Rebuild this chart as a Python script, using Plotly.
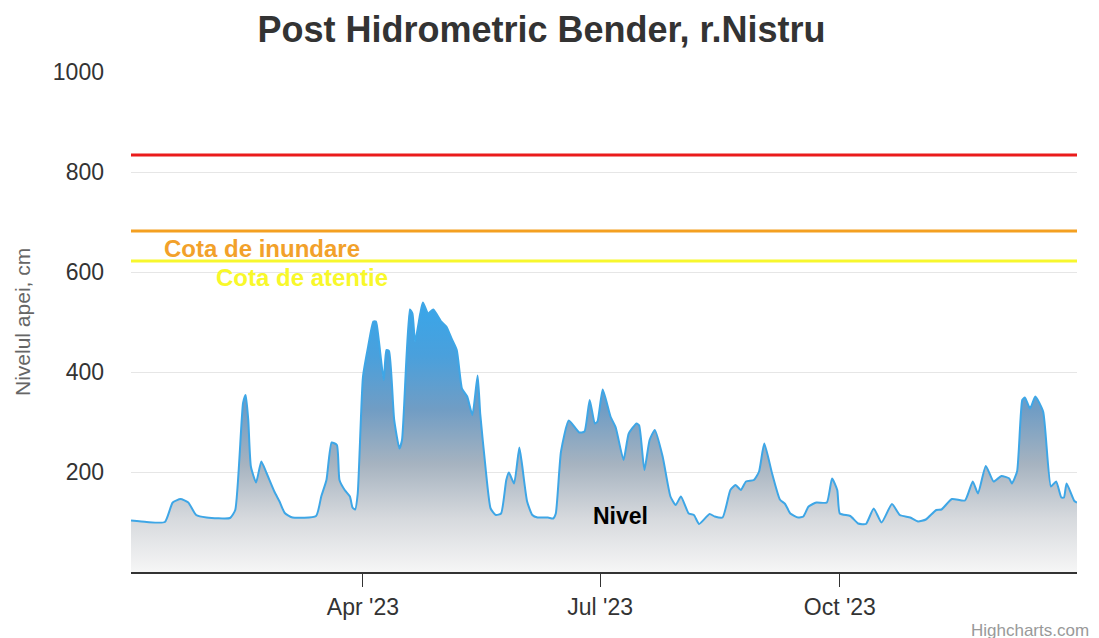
import plotly.graph_objects as go

# Water level, cm
dates = [
    "2023-01-02", "2023-01-08", "2023-01-15", "2023-01-18", "2023-01-21", "2023-01-24",
    "2023-01-27", "2023-01-31", "2023-02-09", "2023-02-11", "2023-02-14", "2023-02-15",
    "2023-02-16", "2023-02-17", "2023-02-19", "2023-02-21", "2023-02-23", "2023-02-26",
    "2023-02-28", "2023-03-02", "2023-03-05", "2023-03-14", "2023-03-16", "2023-03-18",
    "2023-03-20", "2023-03-22", "2023-03-23", "2023-03-25", "2023-03-27", "2023-03-28",
    "2023-03-29", "2023-03-30", "2023-04-01", "2023-04-03", "2023-04-05", "2023-04-06",
    "2023-04-07", "2023-04-09", "2023-04-10", "2023-04-11", "2023-04-13", "2023-04-15",
    "2023-04-16", "2023-04-19", "2023-04-20", "2023-04-21", "2023-04-23", "2023-04-24",
    "2023-04-26", "2023-04-28", "2023-05-01", "2023-05-03", "2023-05-05", "2023-05-07",
    "2023-05-09", "2023-05-11", "2023-05-13", "2023-05-15", "2023-05-16", "2023-05-18",
    "2023-05-20", "2023-05-22", "2023-05-24", "2023-05-26", "2023-05-27", "2023-05-29",
    "2023-05-31", "2023-06-01", "2023-06-03", "2023-06-05", "2023-06-07", "2023-06-11",
    "2023-06-13", "2023-06-14", "2023-06-16", "2023-06-19", "2023-06-23", "2023-06-25",
    "2023-06-27", "2023-06-29", "2023-06-30", "2023-07-02", "2023-07-05", "2023-07-07",
    "2023-07-10", "2023-07-12", "2023-07-15", "2023-07-16", "2023-07-18", "2023-07-20",
    "2023-07-22", "2023-07-25", "2023-07-28", "2023-07-30", "2023-08-01", "2023-08-04",
    "2023-08-06", "2023-08-08", "2023-08-12", "2023-08-14", "2023-08-17", "2023-08-20",
    "2023-08-22", "2023-08-24", "2023-08-26", "2023-08-29", "2023-08-31", "2023-09-02",
    "2023-09-05", "2023-09-08", "2023-09-10", "2023-09-12", "2023-09-15", "2023-09-17",
    "2023-09-19", "2023-09-22", "2023-09-26", "2023-09-28", "2023-09-30", "2023-10-01",
    "2023-10-05", "2023-10-08", "2023-10-11", "2023-10-14", "2023-10-17", "2023-10-21",
    "2023-10-24", "2023-10-28", "2023-10-31", "2023-11-03", "2023-11-07", "2023-11-09",
    "2023-11-13", "2023-11-18", "2023-11-21", "2023-11-23", "2023-11-26", "2023-11-29",
    "2023-12-02", "2023-12-05", "2023-12-06", "2023-12-08", "2023-12-10", "2023-12-11",
    "2023-12-13", "2023-12-15", "2023-12-18", "2023-12-21", "2023-12-23", "2023-12-25",
    "2023-12-26", "2023-12-27", "2023-12-30", "2023-12-31",
]
nivel = [
    103, 100, 100, 139, 146, 139,
    114, 109, 108, 124, 338, 354,
    304, 211, 179, 221, 198, 161,
    141, 118, 109, 112, 151, 184,
    259, 254, 184, 164, 151, 129,
    125, 157, 390, 451, 501, 501,
    467, 384, 444, 442, 304, 247,
    264, 525, 517, 461, 517, 539,
    517, 525, 501, 491, 467, 444,
    367, 351, 314, 393, 317, 211,
    127, 114, 117, 184, 199, 177,
    249, 217, 141, 114, 109, 109,
    107, 117, 241, 303, 279, 281,
    344, 297, 301, 365, 311, 289,
    224, 277, 297, 293, 204, 264,
    284, 231, 151, 134, 151, 117,
    114, 96, 116, 111, 109, 164,
    174, 164, 181, 184, 201, 257,
    197, 145, 136, 117, 109, 111,
    131, 139, 139, 187, 164, 117,
    112, 97, 96, 127, 99, 136,
    114, 109, 101, 105, 124, 125,
    146, 143, 181, 157, 212, 181,
    192, 187, 177, 201, 344, 349,
    327, 351, 321, 171, 181, 149,
    149, 177, 142, 139,
]

# Threshold levels, cm
cota_pericol = 834
cota_inundare = 682
cota_atentie = 622

fig = go.Figure()

fig.add_trace(go.Scatter(
    x=dates,
    y=nivel,
    mode="lines",
    name="Nivel",
    line=dict(color="#3ea6e6", width=2, shape="spline", smoothing=0.5),
    fill="tozeroy",
    fillgradient=dict(
        type="vertical",
        start=0,
        stop=540,
        colorscale=[
            [0.0, "#f6f6f6"],
            [0.2, "#d6d9dd"],
            [0.4, "#a6b3c0"],
            [0.6, "#719dc4"],
            [0.8, "#4aa0dc"],
            [1.0, "#38a6ea"],
        ],
    ),
    showlegend=False,
    hoverinfo="x+y",
))

for level, color in [(cota_pericol, "#ea1b1b"), (cota_inundare, "#f4a021"), (cota_atentie, "#f7f72e")]:
    fig.add_hline(y=level, line=dict(color=color, width=3), layer="above")

# labels of the threshold lines
fig.add_annotation(x=0.138, xref="paper", xanchor="center", y=648, yref="y",
                   text="<b>Cota de inundare</b>", showarrow=False,
                   font=dict(size=24, color="#f2a12a"))
fig.add_annotation(x=0.181, xref="paper", xanchor="center", y=590, yref="y",
                   text="<b>Cota de atentie</b>", showarrow=False,
                   font=dict(size=24, color="#f8f82a"))
fig.add_annotation(x="2023-07-09", y=112, text="<b>Nivel</b>", showarrow=False,
                   font=dict(size=23, color="#000000"))

# y axis title
fig.add_annotation(x=0, xref="paper", xanchor="center", xshift=-109,
                   y=0.5, yref="paper", yanchor="middle", textangle=-90,
                   text="Nivelul apei, cm", showarrow=False,
                   font=dict(size=21, color="#666666"))

fig.add_annotation(x=1.0147, xref="paper", xanchor="right", y=-0.116, yref="paper",
                   yanchor="middle", text="Highcharts.com", showarrow=False,
                   font=dict(size=17, color="#999999"))

fig.update_layout(
    width=1099,
    height=638,
    margin=dict(l=123, r=30, t=64, b=74),
    paper_bgcolor="white",
    plot_bgcolor="white",
    font=dict(family="Liberation Sans, Arial, sans-serif", color="#333333"),
    title=dict(
        text="<b>Post Hidrometric Bender, r.Nistru</b>",
        x=0.4854, xanchor="center", y=0.966, yanchor="middle",
        font=dict(size=36, color="#333333"),
    ),
    xaxis=dict(
        type="date",
        range=[dates[0], dates[-1]],
        dtick="M3",
        tick0="2023-01-01",
        tickformat="%b '%y",
        ticks="outside",
        ticklen=13,
        tickcolor="#333333",
        tickfont=dict(size=23, color="#333333"),
        showline=True,
        linecolor="#333333",
        linewidth=2,
        showgrid=False,
        zeroline=False,
    ),
    yaxis=dict(
        range=[0, 1000],
        tickvals=[200, 400, 600, 800, 1000],
        tickfont=dict(size=23, color="#333333"),
        gridcolor="#e6e6e6",
        gridwidth=1,
        zeroline=False,
        showline=False,
        ticklabelstandoff=26,
    ),
)

fig.write_html("out.html")
